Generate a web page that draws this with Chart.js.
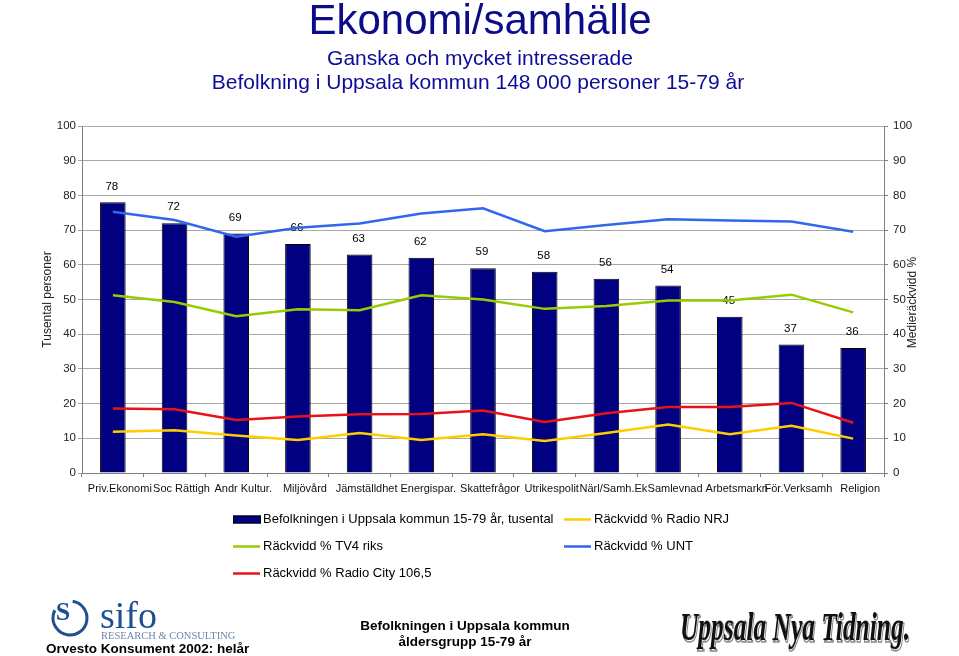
<!DOCTYPE html>
<html>
<head>
<meta charset="utf-8">
<script src="https://cdn.jsdelivr.net/npm/chart.js@4.4.1/dist/chart.umd.min.js"></script>
<style>
  html, body { margin: 0; padding: 0; background: #ffffff; }
  #wrap { position: relative; width: 959px; height: 656px; }
  canvas { display: block; }
</style>
</head>
<body>
<div id="wrap"><canvas id="c" width="959" height="656"></canvas></div>
<script>
// ---- data ----
const categories = ["Priv.Ekonomi", "Soc Rättigh", "Andr Kultur.", "Miljövård", "Jämställdhet", "Energispar.", "Skattefrågor", "Utrikespolit", "Närl/Samh.Ek", "Samlevnad", "Arbetsmarkn", "För.Verksamh", "Religion"];
const population = [78, 72, 69, 66, 63, 62, 59, 58, 56, 54, 45, 37, 36];
const radioNRJ   = [11.9, 12.3, 10.8, 9.5, 11.5, 9.5, 11.2, 9.2, 11.5, 14.0, 11.2, 13.6, 9.9];
const tv4Riks    = [51.2, 49.3, 45.2, 47.2, 46.9, 51.2, 50.0, 47.3, 48.1, 49.7, 49.7, 51.4, 46.3];
const unt        = [75.3, 72.9, 68.1, 70.7, 71.9, 74.8, 76.3, 69.7, 71.5, 73.1, 72.8, 72.5, 69.5];
const radioCity  = [18.6, 18.4, 15.3, 16.3, 16.9, 17.0, 18.0, 14.7, 17.2, 19.0, 19.0, 20.2, 14.5];
const yTickValues = [0, 10, 20, 30, 40, 50, 60, 70, 80, 90, 100];

const seriesNames = {
  pop: "Befolkningen i Uppsala kommun 15-79 år, tusental",
  nrj: "Räckvidd % Radio NRJ",
  tv4: "Räckvidd % TV4 riks",
  unt: "Räckvidd % UNT",
  city: "Räckvidd % Radio City 106,5"
};

const FONT = "'Liberation Sans', Arial, sans-serif";
const COLORS = { bar: "#000080", nrj: "#ffcc00", tv4: "#99cc00", unt: "#3366ee", city: "#e8121a" };

const barLabels = {
  id: 'barLabels',
  afterDatasetDraw(chart, args) {
    if (args.index !== 0) return;
    const ctx = chart.ctx;
    ctx.save();
    ctx.font = "11.5px " + FONT;
    ctx.fillStyle = "#000";
    ctx.textAlign = "center";
    ctx.textBaseline = "middle";
    args.meta.data.forEach((el, i) => {
      ctx.fillText(String(population[i]), el.x - 1, el.y - 16);
    });
    ctx.restore();
  }
};

const decorations = {
  id: 'decorations',
  afterDraw(chart) {
    const ctx = chart.ctx;
    ctx.save();
    // titles
    ctx.textAlign = "center";
    ctx.textBaseline = "alphabetic";
    ctx.fillStyle = "#0c0c88";
    ctx.font = "42px " + FONT;
    ctx.fillText("Ekonomi/samhälle", 480, 34);
    ctx.font = "21px " + FONT;
    ctx.fillStyle = "#0c0c96";
    ctx.fillText("Ganska och mycket intresserade", 480, 65);
    ctx.fillText("Befolkning i Uppsala kommun 148 000 personer 15-79 år", 478, 88.5);

    // axis titles
    const ca = chart.chartArea;
    const cy = (ca.top + ca.bottom) / 2;
    ctx.font = "12px " + FONT;
    ctx.fillStyle = "#222";
    ctx.textBaseline = "middle";
    ctx.save();
    ctx.translate(48, cy);
    ctx.rotate(-Math.PI / 2);
    ctx.fillText("Tusental personer", 0, 0);
    ctx.restore();
    ctx.save();
    ctx.translate(913, cy + 3);
    ctx.rotate(-Math.PI / 2);
    ctx.fillText("Medieräckvidd %", 0, 0);
    ctx.restore();

    // legend
    ctx.font = "13px " + FONT;
    ctx.fillStyle = "#000";
    ctx.textAlign = "left";
    ctx.textBaseline = "middle";
    const items = [
      { x: 233, y: 519.5, type: 'bar', color: COLORS.bar, text: seriesNames.pop },
      { x: 564, y: 519.5, type: 'line', color: COLORS.nrj, text: seriesNames.nrj },
      { x: 233, y: 546.5, type: 'line', color: COLORS.tv4, text: seriesNames.tv4 },
      { x: 564, y: 546.5, type: 'line', color: COLORS.unt, text: seriesNames.unt },
      { x: 233, y: 573.5, type: 'line', color: COLORS.city, text: seriesNames.city }
    ];
    items.forEach(it => {
      if (it.type === 'bar') {
        ctx.fillStyle = it.color;
        ctx.fillRect(it.x, it.y - 4, 28, 8);
        ctx.strokeStyle = "#000";
        ctx.lineWidth = 1;
        ctx.strokeRect(it.x + 0.5, it.y - 3.5, 27, 7);
      } else {
        ctx.strokeStyle = it.color;
        ctx.lineWidth = 2.5;
        ctx.beginPath();
        ctx.moveTo(it.x, it.y);
        ctx.lineTo(it.x + 27, it.y);
        ctx.stroke();
      }
      ctx.fillStyle = "#000";
      ctx.fillText(it.text, it.x + 30, it.y);
    });

    // footer: sifo logo
    ctx.strokeStyle = "#1f4f8f";
    ctx.lineWidth = 3;
    ctx.beginPath();
    ctx.arc(70, 618, 17, Math.PI * 1.55, Math.PI * 1.15);
    ctx.stroke();
    ctx.font = "bold 26px 'Liberation Serif', serif";
    ctx.fillStyle = "#1f4f8f";
    ctx.textAlign = "center";
    ctx.textBaseline = "alphabetic";
    ctx.fillText("S", 63, 620);
    ctx.textAlign = "left";
    ctx.font = "38px 'Liberation Serif', serif";
    ctx.fillText("sifo", 100, 628);
    ctx.font = "10.5px 'Liberation Serif', serif";
    ctx.fillStyle = "#6f84ad";
    ctx.fillText("RESEARCH & CONSULTING", 101, 639);
    ctx.font = "bold 13.5px " + FONT;
    ctx.fillStyle = "#000";
    ctx.fillText("Orvesto Konsument 2002: helår", 46, 653);

    // footer center
    ctx.textAlign = "center";
    ctx.font = "bold 13.5px " + FONT;
    ctx.fillText("Befolkningen i Uppsala kommun", 465, 630);
    ctx.fillText("åldersgrupp 15-79 år", 465, 646);

    // footer UNT logo (horizontally compressed to fit)
    ctx.font = "bold italic 40px 'Liberation Serif', serif";
    ctx.textAlign = "left";
    ctx.fillStyle = "#111";
    const logo = "Uppsala Nya Tidning.";
    const w = ctx.measureText(logo).width;
    const target = 230;
    ctx.save();
    ctx.translate(680, 640);
    ctx.scale(target / w, 1);
    ctx.strokeStyle = "#888";
    ctx.lineWidth = 1.5;
    ctx.strokeText(logo, 1.5, 1.5);
    ctx.fillText(logo, 0, 0);
    ctx.restore();
    ctx.restore();
  }
};

const ctx = document.getElementById('c').getContext('2d');
new Chart(ctx, {
  data: {
    labels: categories,
    datasets: [
      { type: 'bar', label: seriesNames.pop, data: population, yAxisID: 'y', order: 10,
        backgroundColor: COLORS.bar, borderColor: "#000", borderWidth: 1,
        barPercentage: 0.415, categoryPercentage: 1.0 },
      { type: 'line', label: seriesNames.nrj, data: radioNRJ, yAxisID: 'y2', order: 4,
        borderColor: COLORS.nrj, borderWidth: 2.5, pointRadius: 0, tension: 0, fill: false },
      { type: 'line', label: seriesNames.tv4, data: tv4Riks, yAxisID: 'y2', order: 3,
        borderColor: COLORS.tv4, borderWidth: 2.5, pointRadius: 0, tension: 0, fill: false },
      { type: 'line', label: seriesNames.unt, data: unt, yAxisID: 'y2', order: 2,
        borderColor: COLORS.unt, borderWidth: 2.5, pointRadius: 0, tension: 0, fill: false },
      { type: 'line', label: seriesNames.city, data: radioCity, yAxisID: 'y2', order: 1,
        borderColor: COLORS.city, borderWidth: 2.5, pointRadius: 0, tension: 0, fill: false }
    ]
  },
  options: {
    responsive: false,
    animation: false,
    devicePixelRatio: 1,
    layout: { padding: { top: 126, bottom: 153, left: 0, right: 0 } },
    plugins: {
      legend: { display: false },
      title: { display: false },
      tooltip: { enabled: false }
    },
    scales: {
      x: {
        offset: true,
        afterFit(s) { s.height = 30; },
        grid: { display: true, offset: true, drawOnChartArea: false, tickLength: 4, color: "#808080" },
        border: { color: "#808080", width: 1 },
        ticks: { autoSkip: false, maxRotation: 0, minRotation: 0, labelOffset: 7, padding: 5,
                 color: "#111", font: { family: FONT, size: 11 } }
      },
      y: {
        position: 'left', min: 0, max: 100,
        afterFit(s) { s.width = 82; },
        afterBuildTicks(s) { s.ticks = yTickValues.map(v => ({ value: v })); },
        grid: { color: "#a8a8a8", lineWidth: 1, tickLength: 4, drawTicks: true },
        border: { color: "#808080", width: 1 },
        ticks: { padding: 2, color: "#222", font: { family: FONT, size: 11.5 } }
      },
      y2: {
        position: 'right', min: 0, max: 100,
        afterFit(s) { s.width = 75; },
        afterBuildTicks(s) { s.ticks = yTickValues.map(v => ({ value: v })); },
        grid: { drawOnChartArea: false, tickLength: 4, color: "#808080" },
        border: { color: "#808080", width: 1 },
        ticks: { padding: 5, color: "#222", font: { family: FONT, size: 11.5 } }
      }
    }
  },
  plugins: [barLabels, decorations]
});
</script>
</body>
</html>
